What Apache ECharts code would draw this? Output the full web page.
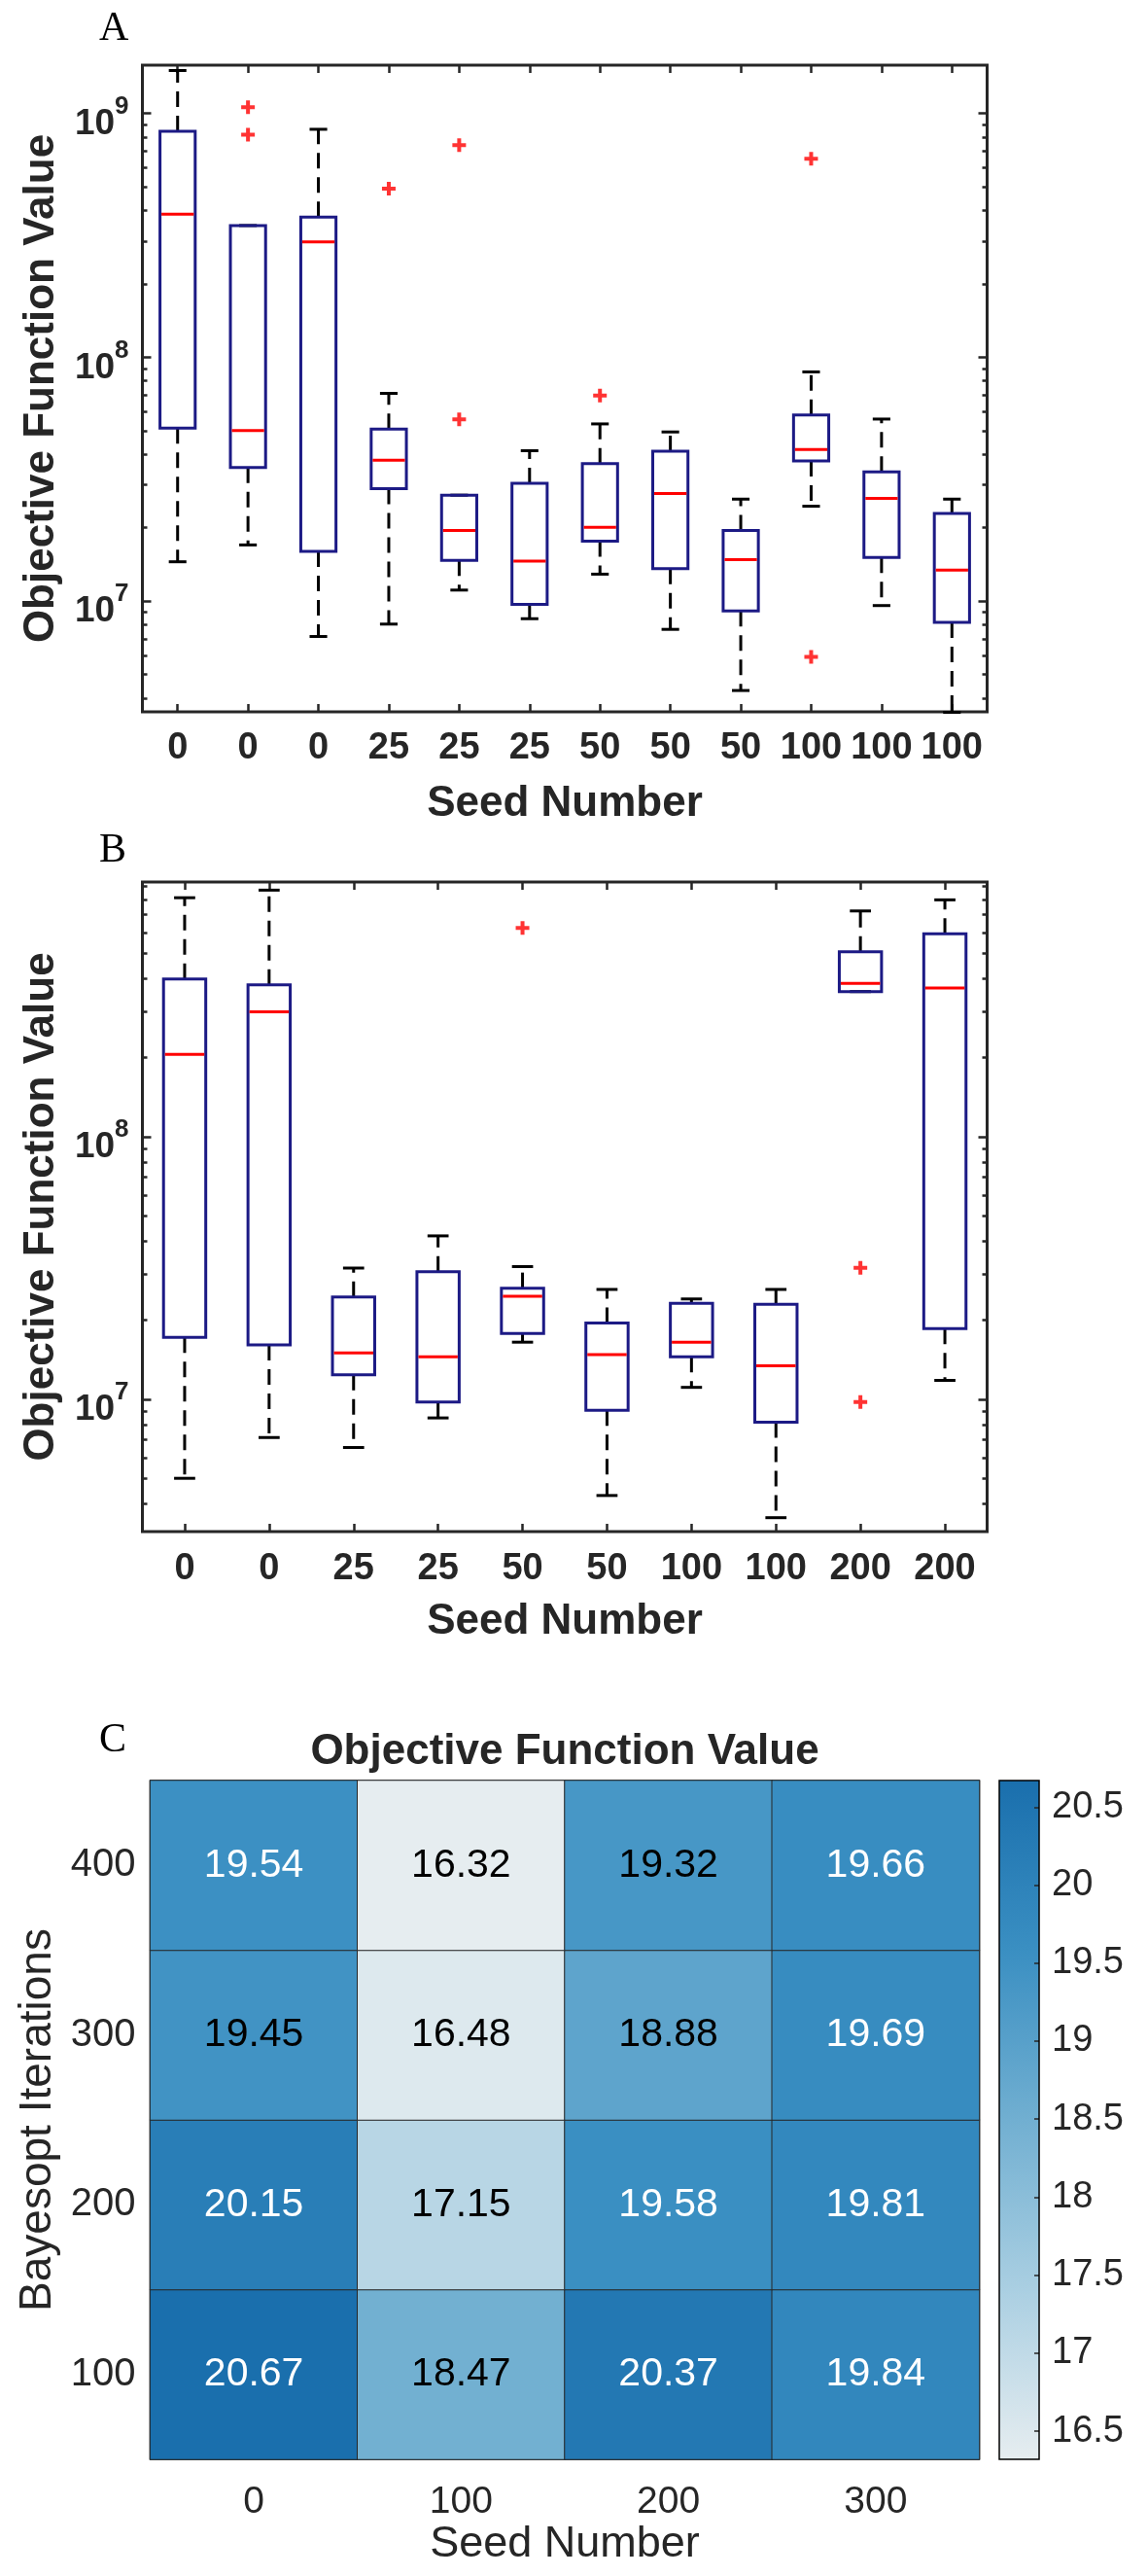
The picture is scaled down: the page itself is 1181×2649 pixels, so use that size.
<!DOCTYPE html>
<html>
<head>
<meta charset="utf-8">
<script src="https://cdn.jsdelivr.net/npm/echarts@6/dist/echarts.min.js"></script>
<style>
html, body { margin: 0; padding: 0; background: #fff; }
#chart { width: 1181px; height: 2649px; }
</style>
</head>
<body>
<div id="chart"></div>
<script>
var SANS = '"Liberation Sans", Arial, Helvetica, sans-serif';
var SERIF = '"Liberation Serif", "Times New Roman", serif';
var INK = '#262626';

// A: objective value per seed number (box summary, raw values)
var seedsA = ['0', '0', '0', '25', '25', '25', '50', '50', '50', '100', '100', '100'];
var lowA  = [1.45e7, 1.70e7, 7.16e6, 8.05e6, 1.11e7, 8.47e6, 1.29e7, 7.66e6, 4.30e6, 2.45e7, 9.59e6, 3.5e6];
var q1A   = [5.12e7, 3.53e7, 1.60e7, 2.89e7, 1.47e7, 9.70e6, 1.76e7, 1.36e7, 9.12e6, 3.76e7, 1.51e7, 8.18e6];
var medA  = [3.86e8, 5.01e7, 2.97e8, 3.78e7, 1.95e7, 1.46e7, 2.01e7, 2.76e7, 1.48e7, 4.19e7, 2.64e7, 1.34e7];
var q3A   = [8.44e8, 3.47e8, 3.76e8, 5.07e7, 2.72e7, 3.04e7, 3.66e7, 4.12e7, 1.95e7, 5.80e7, 3.39e7, 2.29e7];
var highA = [1.50e9, 3.47e8, 8.61e8, 7.11e7, 2.72e7, 4.14e7, 5.33e7, 4.94e7, 2.62e7, 8.71e7, 5.58e7, 2.62e7];
var outA  = [[1, 1.06e9], [1, 8.19e8], [3, 4.91e8], [4, 7.41e8], [4, 5.56e7], [6, 6.97e7], [9, 6.52e8], [9, 5.91e6]];

// B
var seedsB = ['0', '0', '25', '25', '50', '50', '100', '100', '200', '200'];
var lowB  = [5.00e6, 7.15e6, 6.55e6, 8.49e6, 1.65e7, 4.30e6, 1.11e7, 3.54e6, 3.57e8, 1.18e7];
var q1B   = [1.72e7, 1.61e7, 1.24e7, 9.77e6, 1.78e7, 9.08e6, 1.45e7, 8.17e6, 3.57e8, 1.86e7];
var medB  = [2.06e8, 2.99e8, 1.50e7, 1.45e7, 2.47e7, 1.48e7, 1.65e7, 1.34e7, 3.84e8, 3.68e8];
var q3B   = [3.99e8, 3.79e8, 2.45e7, 3.06e7, 2.65e7, 1.95e7, 2.32e7, 2.30e7, 5.06e8, 5.92e8];
var highB = [8.13e8, 8.69e8, 3.16e7, 4.19e7, 3.20e7, 2.62e7, 2.41e7, 2.62e7, 7.24e8, 7.98e8];
var outB  = [[4, 6.24e8], [4, 3.13e6], [8, 3.17e7], [8, 9.77e6]];

// log10 axis extents and decade labels
var logRangeA = [6.546, 9.198];
var logRangeB = [6.496, 8.970];
var decadesA = [7, 8, 9];
var decadesB = [7, 8];

// C: heatmap, rows follow itersC from bottom to top
var seedsC = ['0', '100', '200', '300'];
var itersC = ['100', '200', '300', '400'];
var objC = [
    [20.67, 18.47, 20.37, 19.84],
    [20.15, 17.15, 19.58, 19.81],
    [19.45, 16.48, 18.88, 19.69],
    [19.54, 16.32, 19.32, 19.66]
];
var cbarTicks = [16.5, 17, 17.5, 18, 18.5, 19, 19.5, 20, 20.5];
var cbarMin = 16.32, cbarMax = 20.67;
var cmap = ['#e6edf0', '#aacfe2', '#71afd1', '#3a8fc2', '#1a6fad'];

function minorTicks(range) {
    var out = [];
    for (var n = Math.floor(range[0]); n <= Math.ceil(range[1]); n++) {
        for (var k = 2; k <= 9; k++) {
            var v = n + Math.log10(k);
            if (v > range[0] && v < range[1]) out.push(v);
        }
    }
    return out;
}

function boxRows(low, q1, med, q3, high) {
    return low.map(function (v, i) {
        return [i, Math.log10(v), Math.log10(q1[i]), Math.log10(med[i]), Math.log10(q3[i]), Math.log10(high[i])];
    });
}

function outRows(out) {
    return out.map(function (o) { return [o[0], Math.log10(o[1])]; });
}

// matlab-style box: dashed whiskers, short caps, navy box, red median
function renderBox(params, api) {
    var i = api.value(0);
    var lo = api.coord([i, api.value(1)]);
    var q1 = api.coord([i, api.value(2)]);
    var md = api.coord([i, api.value(3)]);
    var q3 = api.coord([i, api.value(4)]);
    var hi = api.coord([i, api.value(5)]);
    var x = hi[0];
    var bw = api.size([1, 0])[0] * 0.5;
    var cw = bw * 0.5;
    function dash() { return { stroke: '#000', lineWidth: 3, lineDash: [16, 9] }; }
    function solid() { return { stroke: '#000', lineWidth: 3 }; }
    return {
        type: 'group',
        children: [
            { type: 'line', shape: { x1: x, y1: q3[1], x2: x, y2: hi[1] }, style: dash() },
            { type: 'line', shape: { x1: x, y1: q1[1], x2: x, y2: lo[1] }, style: dash() },
            { type: 'line', shape: { x1: x - cw / 2, y1: hi[1], x2: x + cw / 2, y2: hi[1] }, style: solid() },
            { type: 'line', shape: { x1: x - cw / 2, y1: lo[1], x2: x + cw / 2, y2: lo[1] }, style: solid() },
            { type: 'rect', shape: { x: x - bw / 2, y: q3[1], width: bw, height: q1[1] - q3[1] },
              style: { fill: 'none', stroke: '#1c1a85', lineWidth: 3 } },
            { type: 'line', shape: { x1: x - bw / 2 + 1.5, y1: md[1], x2: x + bw / 2 - 1.5, y2: md[1] },
              style: { stroke: '#ff0000', lineWidth: 3 } }
        ]
    };
}

function renderCbar(params, api) {
    var p0 = api.coord([api.value(0), api.value(2)]);
    var p1 = api.coord([api.value(1), api.value(3)]);
    return {
        type: 'rect',
        shape: { x: p0[0], y: p1[1], width: p1[0] - p0[0], height: p0[1] - p1[1] },
        style: {
            fill: {
                type: 'linear', x: 0, y: 1, x2: 0, y2: 0,
                colorStops: cmap.map(function (c, k) { return { offset: k / (cmap.length - 1), color: c }; })
            }
        }
    };
}

var tickStyle = { color: INK, width: 2.5 };
// exponent on its own line, "10" below it with a hidden copy of the exponent for width
var supRich = {
    s: { fontSize: 26, fontWeight: 'bold', fontFamily: SANS, color: INK, lineHeight: 22 },
    b: { fontSize: 37, fontWeight: 'bold', fontFamily: SANS, color: INK, lineHeight: 14 },
    h: { fontSize: 26, fontWeight: 'bold', fontFamily: SANS, color: 'rgba(0,0,0,0)', lineHeight: 14 }
};

function boxXAxes(g, seeds, margin, nameGap) {
    return [{
        gridIndex: g, type: 'category', data: seeds, position: 'bottom',
        axisLine: { show: false, onZero: false },
        axisTick: { show: true, inside: true, alignWithLabel: true, interval: 0, length: 8, lineStyle: tickStyle },
        axisLabel: { interval: 0, margin: margin, color: INK, fontFamily: SANS, fontWeight: 'bold', fontSize: 38 },
        name: 'Seed Number', nameLocation: 'middle', nameGap: nameGap,
        nameTextStyle: { color: INK, fontFamily: SANS, fontWeight: 'bold', fontSize: 44 }
    }, {
        gridIndex: g, type: 'category', data: seeds, position: 'top',
        axisLine: { show: false, onZero: false },
        axisTick: { show: true, inside: true, alignWithLabel: true, interval: 0, length: 8, lineStyle: tickStyle },
        axisLabel: { show: false }
    }];
}

function boxYAxes(g, range, decades) {
    var minor = minorTicks(range);
    var base = function (pos, ticks, len, labels) {
        var ax = {
            gridIndex: g, type: 'value', min: range[0], max: range[1], position: pos,
            axisLine: { show: false, onZero: false }, splitLine: { show: false },
            axisTick: { show: true, inside: true, length: len, customValues: ticks, lineStyle: tickStyle },
            axisLabel: { show: false }
        };
        if (labels) {
            ax.axisLabel = {
                show: true, customValues: decades, margin: 14,
                formatter: function (v) {
                    var e = Math.round(v);
                    return '{s|' + e + '}\n{b|10}{h|' + e + '}';
                },
                rich: supRich
            };
            ax.name = 'Objective Function Value';
            ax.nameLocation = 'middle';
            ax.nameGap = 82;
            ax.nameTextStyle = { color: INK, fontFamily: SANS, fontWeight: 'bold', fontSize: 44 };
        }
        return ax;
    };
    return [
        base('left', decades, 9, true),
        base('left', minor, 5, false),
        base('right', decades, 9, false),
        base('right', minor, 5, false)
    ];
}

var cells = [];
objC.forEach(function (row, r) {
    row.forEach(function (v, c) {
        cells.push({ value: [c, r, v], label: { color: v > 19.5 ? '#ffffff' : '#000000' } });
    });
});

var xA = boxXAxes(0, seedsA, 19, 73);
var xB = boxXAxes(1, seedsB, 20, 71);
var yA = boxYAxes(0, logRangeA, decadesA);
var yB = boxYAxes(1, logRangeB, decadesB);

var chart = echarts.init(document.getElementById('chart'), null, { renderer: 'canvas' });
chart.setOption({
    animation: false,
    backgroundColor: '#ffffff',
    grid: [
        { left: 146.5, top: 67, width: 869, height: 665, show: true, borderColor: INK, borderWidth: 3 },
        { left: 146.5, top: 907, width: 869, height: 668, show: true, borderColor: INK, borderWidth: 3 },
        { left: 154.5, top: 1831, width: 853, height: 698, show: true, borderColor: INK, borderWidth: 1.5 },
        { left: 1028, top: 1831, width: 41, height: 698, show: true, borderColor: '#000', borderWidth: 1.5, z: 10 }
    ],
    xAxis: xA.concat(xB).concat([
        {
            gridIndex: 2, type: 'category', data: seedsC,
            axisLine: { show: false, onZero: false }, axisTick: { show: false },
            axisLabel: { margin: 25, color: INK, fontFamily: SANS, fontSize: 39 },
            name: 'Seed Number', nameLocation: 'middle', nameGap: 65,
            nameTextStyle: { color: INK, fontFamily: SANS, fontSize: 45 }
        },
        { gridIndex: 3, type: 'value', min: 0, max: 1, show: false }
    ]),
    yAxis: yA.concat(yB).concat([
        {
            gridIndex: 2, type: 'category', data: itersC,
            axisLine: { show: false, onZero: false }, axisTick: { show: false },
            axisLabel: { margin: 15, color: INK, fontFamily: SANS, fontSize: 40 },
            name: 'Bayesopt Iterations', nameLocation: 'middle', nameGap: 92,
            nameTextStyle: { color: INK, fontFamily: SANS, fontSize: 46 }
        },
        {
            gridIndex: 3, type: 'value', min: cbarMin, max: cbarMax, position: 'right', z: 6,
            axisLine: { show: false, onZero: false }, splitLine: { show: false },
            axisTick: { show: true, inside: true, length: 5, customValues: cbarTicks, lineStyle: { color: INK, width: 1.5 } },
            axisLabel: { customValues: cbarTicks, margin: 13, color: INK, fontFamily: SANS, fontSize: 38 }
        }
    ]),
    visualMap: {
        type: 'continuous', show: false, min: cbarMin, max: cbarMax,
        seriesIndex: 4, dimension: 2, inRange: { color: cmap }
    },
    graphic: [
        { type: 'text', x: 102, y: 30, style: { text: 'A', font: '42px ' + SERIF, fill: '#000', textVerticalAlign: 'middle', verticalAlign: 'middle' } },
        { type: 'text', x: 102, y: 875, style: { text: 'B', font: '42px ' + SERIF, fill: '#000', textVerticalAlign: 'middle', verticalAlign: 'middle' } },
        { type: 'text', x: 102, y: 1790, style: { text: 'C', font: '42px ' + SERIF, fill: '#000', textVerticalAlign: 'middle', verticalAlign: 'middle' } },
        { type: 'text', x: 581, y: 1802, style: { text: 'Objective Function Value', font: 'bold 44px ' + SANS, fill: INK,
            textAlign: 'center', align: 'center', textVerticalAlign: 'middle', verticalAlign: 'middle' } }
    ],
    series: [
        { type: 'custom', xAxisIndex: 0, yAxisIndex: 0, renderItem: renderBox,
          encode: { x: 0, y: [1, 2, 3, 4, 5] }, data: boxRows(lowA, q1A, medA, q3A, highA), z: 3 },
        { type: 'scatter', xAxisIndex: 0, yAxisIndex: 0, data: outRows(outA),
          symbol: 'path://M5,0H9V5H14V9H9V14H5V9H0V5H5Z', symbolSize: 14, itemStyle: { color: '#ff0000' }, z: 4 },
        { type: 'custom', xAxisIndex: 2, yAxisIndex: 4, renderItem: renderBox,
          encode: { x: 0, y: [1, 2, 3, 4, 5] }, data: boxRows(lowB, q1B, medB, q3B, highB), z: 3 },
        { type: 'scatter', xAxisIndex: 2, yAxisIndex: 4, data: outRows(outB),
          symbol: 'path://M5,0H9V5H14V9H9V14H5V9H0V5H5Z', symbolSize: 14, itemStyle: { color: '#ff0000' }, z: 4 },
        { type: 'heatmap', xAxisIndex: 4, yAxisIndex: 8, data: cells,
          itemStyle: { borderColor: INK, borderWidth: 1 },
          label: { show: true, fontFamily: SANS, fontSize: 41,
                   formatter: function (p) { return p.value[2].toFixed(2); } },
          emphasis: { disabled: true } },
        { type: 'custom', xAxisIndex: 5, yAxisIndex: 9, renderItem: renderCbar,
          encode: { x: [0, 1], y: [2, 3] }, data: [[0, 1, cbarMin, cbarMax]], silent: true }
    ]
});
</script>
</body>
</html>
